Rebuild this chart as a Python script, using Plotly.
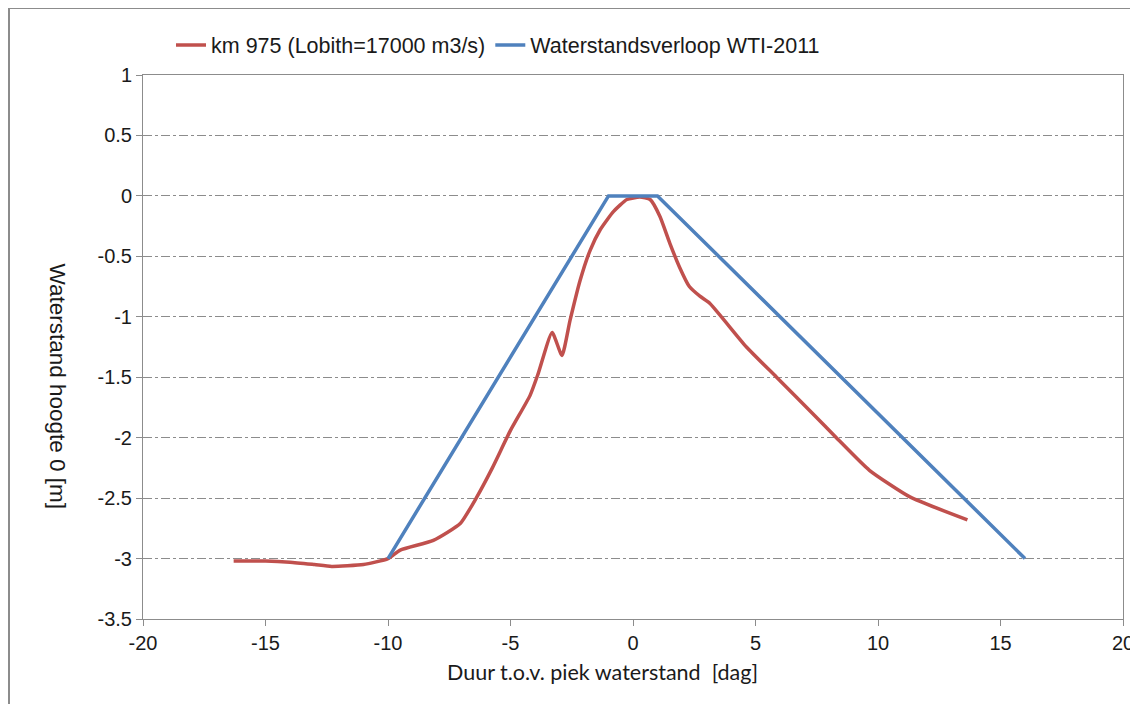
import plotly.graph_objects as go

# Waterstandsverloop: red = berekend km 975, blue = WTI-2011 schematisatie
km975_x = [-16.3, -15.0, -14.0, -13.0, -12.3, -11.0, -10.0, -9.5, -8.15, -7.05, -6.4,
           -5.74, -5.0, -4.2, -3.87, -3.3, -2.9, -2.57, -2.16, -1.75, -1.34, -0.8,
           -0.25, 0.28, 0.7, 1.1, 1.5, 1.9, 2.3, 2.73, 3.14, 4.63, 5.86, 7.33, 8.3,
           9.65, 11.3, 13.65]
km975_y = [-3.02, -3.02, -3.03, -3.05, -3.065, -3.05, -3.0, -2.93, -2.85, -2.71, -2.5,
           -2.25, -1.94, -1.65, -1.47, -1.13, -1.32, -1.03, -0.70, -0.45, -0.28, -0.13,
           -0.03, -0.01, -0.03, -0.17, -0.39, -0.59, -0.75, -0.83, -0.89, -1.25, -1.5,
           -1.80, -2.0, -2.27, -2.49, -2.68]

wti_x = [-10, -1, 1, 16]
wti_y = [-3, 0, 0, -3]

x_ticks = [-20, -15, -10, -5, 0, 5, 10, 15, 20]
x_labels = ["-20", "-15", "-10", "-5", "0", "5", "10", "15", "20"]
y_ticks = [1, 0.5, 0, -0.5, -1, -1.5, -2, -2.5, -3, -3.5]
y_labels = ["1", "0.5", "0", "-0.5", "-1", "-1.5", "-2", "-2.5", "-3", "-3.5"]

RED = "#C0504D"
BLUE = "#4F81BD"
AXIS = "#8c8c8c"
FONT = "Liberation Sans, Arial, sans-serif"
TITLE_FONT = "Lato, Open Sans, sans-serif"

# page body has an 8px margin, so the figure is sized to fit the window
W, H = 1130, 696
OFF = 8
L, T = 143 - OFF, 75 - OFF
R = W - (1123 - OFF)
B = H - (619 - OFF)
plot_w = W - L - R
plot_h = H - T - B


def px_to_paper(px, py):
    # reference-image pixels -> paper coords
    return (px - OFF - L) / plot_w, (H - B - (py - OFF)) / plot_h


fig = go.Figure()
fig.add_trace(go.Scatter(
    x=km975_x, y=km975_y, mode="lines",
    name="km 975 (Lobith=17000 m3/s)",
    line=dict(color=RED, width=3.5, shape="spline", smoothing=0.5),
))
fig.add_trace(go.Scatter(
    x=wti_x, y=wti_y, mode="lines",
    name="Waterstandsverloop WTI-2011",
    line=dict(color=BLUE, width=3.5),
))

bx0, by0 = px_to_paper(9, 8)
bx1, by1 = px_to_paper(1145, 720)
tx, ty = px_to_paper(602, 687)
yx, yy = px_to_paper(43, 386)
lx, ly = px_to_paper(171, 45)

fig.update_layout(
    width=W, height=H,
    margin=dict(l=L, r=R, t=T, b=B),
    plot_bgcolor="white", paper_bgcolor="white",
    font=dict(family=FONT, size=20, color="#1a1a1a"),
    xaxis=dict(
        range=[-20, 20], tickvals=x_ticks, ticktext=x_labels,
        showgrid=False, zeroline=False, automargin=False,
        showline=True, linecolor=AXIS, linewidth=1, mirror=True,
        ticks="outside", ticklen=6, tickcolor=AXIS,
        tickfont=dict(size=20),
    ),
    yaxis=dict(
        range=[-3.5, 1], tickvals=y_ticks, ticktext=y_labels,
        showgrid=True, gridcolor=AXIS, gridwidth=1, griddash="dashdot",
        zeroline=False, automargin=False,
        showline=True, linecolor=AXIS, linewidth=1, mirror=True,
        ticks="outside", ticklen=6, tickcolor=AXIS,
        tickfont=dict(size=20),
    ),
    legend=dict(
        orientation="h", x=lx, y=ly, xanchor="left", yanchor="middle",
        font=dict(size=21.5), bgcolor="rgba(0,0,0,0)", itemwidth=30,
    ),
    showlegend=True,
    shapes=[dict(
        type="rect", xref="paper", yref="paper",
        x0=bx0, y0=by1, x1=bx1, y1=by0,
        line=dict(color=AXIS, width=2), layer="below",
    )],
    annotations=[
        dict(text="Duur t.o.v. piek waterstand  [dag]", xref="paper", yref="paper",
             x=tx, y=ty, showarrow=False, font=dict(size=21.5, family=TITLE_FONT)),
        dict(text="Waterstand hoogte 0 [m]", xref="paper", yref="paper",
             x=yx, y=yy, showarrow=False, textangle=90, font=dict(size=22.5)),
    ],
)

fig.write_html("out.html")
